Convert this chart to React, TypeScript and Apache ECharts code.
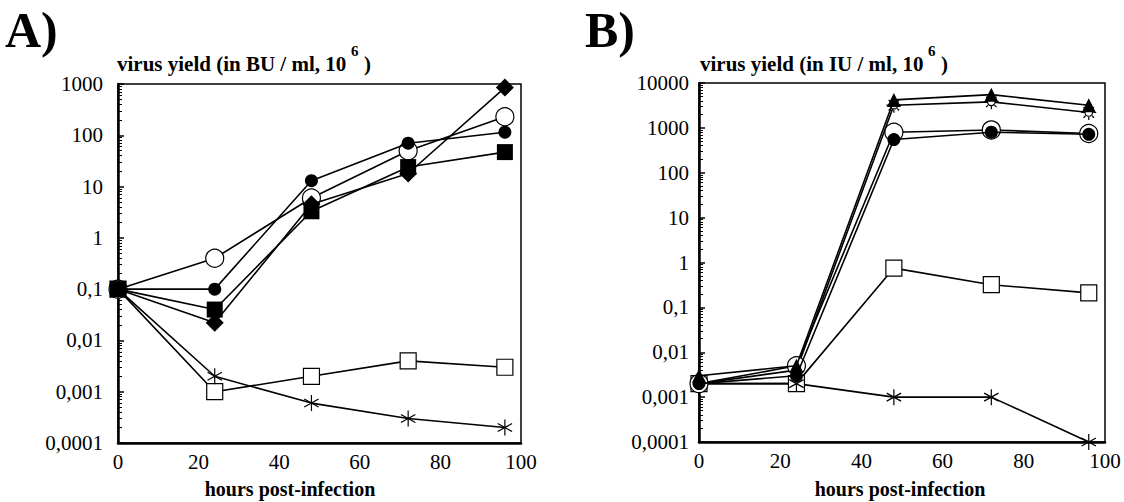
import React, { useEffect, useRef } from "react";
import * as echarts from "echarts";

// ---- data ----
const hours = [0, 24, 48, 72, 96];

// Panel A: virus yield (BU / ml, 10^6)
const aOpenCircle = [0.1, 0.4, 6, 50, 230];
const aFilledCircle = [0.1, 0.1, 13, 70, 115];
const aFilledSquare = [0.1, 0.04, 3.3, 24, 47];
const aFilledDiamond = [0.1, 0.022, 4.5, 18, 850];
const aOpenSquare = [0.1, 0.001, 0.002, 0.004, 0.003];
const aStar = [0.1, 0.002, 0.0006, 0.0003, 0.0002];

// Panel B: virus yield (IU / ml, 10^6)
const bTriangle = [0.003, 0.005, 4200, 5500, 3200];
const bSun = [0.002, 0.004, 3200, 3800, 2200];
const bOpenCircle = [0.002, 0.005, 800, 900, 750];
const bFilledCircle = [0.002, 0.003, 550, 800, 720];
const bOpenSquare = [0.002, 0.002, 0.75, 0.32, 0.21];
const bStar = [0.002, 0.002, 0.001, 0.001, 0.0001];

const titleA = "virus yield (in BU / ml, 10";
const titleB = "virus yield (in IU / ml, 10";
const xTitle = "hours post-infection";

const SERIF = "'Liberation Serif', 'Times New Roman', Times, serif";
const ASTERISK = "path://M0,-10L0,10M-9,-5L9,5M-9,5L9,-5";
const SUN =
  "path://M-5,0A5,5,0,1,1,5,0A5,5,0,1,1,-5,0ZM0,-6L0,-10M0,6L0,10M-6,0L-10,0M6,0L10,0M4.3,4.3L7,7M-4.3,4.3L-7,7M4.3,-4.3L7,-7M-4.3,-4.3L-7,-7";

function mk(
  name: string,
  data: number[],
  idx: number,
  symbol: string,
  size: number,
  filled: boolean,
  z: number
) {
  return {
    type: "line",
    name,
    xAxisIndex: idx,
    yAxisIndex: idx,
    data: hours.map((h, i) => [h, data[i]]),
    symbol,
    symbolSize: size,
    symbolKeepAspect: true,
    showSymbol: true,
    lineStyle: { color: "#000", width: 1.6 },
    itemStyle: {
      color: filled ? "#000" : "#fff",
      borderColor: "#000",
      borderWidth: filled ? 0 : 1.2,
    },
    emphasis: { disabled: true },
    z,
  };
}

const fmt = (v: number) => String(Number(Number(v).toPrecision(4))).replace(".", ",");

function yAxis(idx: number, min: number, max: number, margin: number) {
  return {
    type: "log",
    logBase: 10,
    gridIndex: idx,
    min,
    max,
    axisLine: { show: true, lineStyle: { color: "#000", width: 2.5 } },
    axisTick: { show: true, inside: true, length: 6, lineStyle: { color: "#000", width: 1.5 } },
    minorTick: { show: true, splitNumber: 9, length: 4, lineStyle: { color: "#000", width: 1 } },
    splitLine: { show: false },
    axisLabel: { formatter: fmt, color: "#000", fontFamily: SERIF, fontSize: 21, margin },
  };
}

function xAxis(idx: number) {
  return {
    type: "value",
    gridIndex: idx,
    min: 0,
    max: 100,
    interval: 20,
    axisLine: { show: true, lineStyle: { color: "#000", width: 2.5 } },
    axisTick: { show: false },
    splitLine: { show: false },
    axisLabel: { color: "#000", fontFamily: SERIF, fontSize: 21, margin: 8 },
  };
}

function txt(text: string, x: number, y: number, size: number, align = "left", bold = true) {
  return {
    type: "text",
    x,
    y,
    silent: true,
    style: {
      text,
      fill: "#000",
      fontFamily: SERIF,
      fontSize: size,
      fontWeight: bold ? "bold" : "normal",
      align,
      textAlign: align,
      verticalAlign: "middle",
      textVerticalAlign: "middle",
    },
  };
}

export default function App() {
  const ref = useRef<HTMLDivElement>(null);
  useEffect(() => {
    if (!ref.current) return;
    const chart = echarts.init(ref.current, null, { renderer: "svg" });
    chart.setOption({
      animation: false,
      backgroundColor: "#fff",
      textStyle: { fontFamily: SERIF },
      grid: [
        { left: 118, top: 84, width: 403, height: 359, show: true, borderColor: "#000", borderWidth: 1.5 },
        { left: 699, top: 83, width: 406, height: 359, show: true, borderColor: "#000", borderWidth: 1.5 },
      ],
      xAxis: [xAxis(0), xAxis(1)],
      yAxis: [yAxis(0, 0.0001, 1000, 15), yAxis(1, 0.0001, 10000, 10)],
      series: [
        mk("A open square", aOpenSquare, 0, "rect", 16, false, 2),
        mk("A star", aStar, 0, ASTERISK, 16, false, 2),
        mk("A open circle", aOpenCircle, 0, "circle", 18, false, 3),
        mk("A filled circle", aFilledCircle, 0, "circle", 13, true, 4),
        mk("A filled diamond", aFilledDiamond, 0, "diamond", 18, true, 4),
        mk("A filled square", aFilledSquare, 0, "rect", 16, true, 5),
        mk("B open square", bOpenSquare, 1, "rect", 16, false, 2),
        mk("B star", bStar, 1, ASTERISK, 16, false, 2),
        mk("B sun", bSun, 1, SUN, 15, false, 3),
        mk("B triangle", bTriangle, 1, "triangle", 14, true, 4),
        mk("B open circle", bOpenCircle, 1, "circle", 18, false, 3),
        mk("B filled circle", bFilledCircle, 1, "circle", 13, true, 4),
      ],
      graphic: [
        txt("A)", 5, 30, 50),
        txt("B)", 585, 30, 50),
        txt(titleA, 117, 64, 21),
        txt("6", 351, 51, 15),
        txt(")", 364, 64, 21),
        txt(titleB, 700, 64, 21),
        txt("6", 928, 51, 15),
        txt(")", 941, 64, 21),
        txt(xTitle, 290, 489, 20, "center"),
        txt(xTitle, 900, 489, 20, "center"),
      ],
    });
    return () => chart.dispose();
  }, []);
  return (
    <div
      ref={ref}
      style={{ position: "absolute", left: 0, top: 0, width: 1124, height: 502 }}
    />
  );
}
